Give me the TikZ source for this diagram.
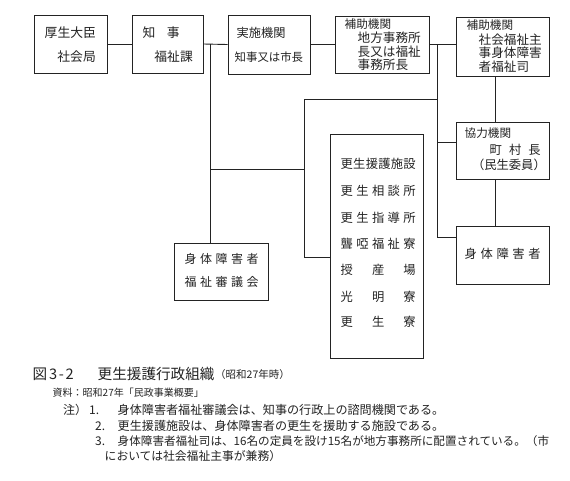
\documentclass[tikz,border=0pt]{standalone}
\usepackage{fontspec}
\setmainfont{Noto Sans CJK JP}
\definecolor{ink}{RGB}{35,35,35}
\newcommand{\fs}[1]{\fontsize{#1}{#1}\selectfont}
\newcommand{\spreadtxt}[2]{\makebox[#1][s]{#2}}
\begin{document}
\begin{tikzpicture}[x=1pt,y=-1pt,
  box/.style={draw=ink,line width=0.9pt,inner sep=0pt,rectangle},
  conn/.style={draw=ink,line width=0.9pt},
  lbl/.style={inner sep=0pt,anchor=west,text=ink},
  rlbl/.style={inner sep=0pt,anchor=east,text=ink}]
\fill[white] (0,0) rectangle (570,480);
\useasboundingbox (0,0) rectangle (570,480);

% boxes
\node[box,minimum width=73pt,minimum height=58pt] (b1) at (70.5,44) {};
\node[box,minimum width=71pt,minimum height=58pt] (b2) at (167.5,44) {};
\node[box,minimum width=82pt,minimum height=59pt] (b3) at (269,44.5) {};
\node[box,minimum width=94pt,minimum height=57pt] (b4) at (382,44.5) {};
\node[box,minimum width=93pt,minimum height=59pt] (b5) at (502.5,46.5) {};
\node[box,minimum width=94pt,minimum height=57pt] (b6) at (221,271.5) {};
\node[box,minimum width=93pt,minimum height=224pt] (b7) at (376.5,246) {};
\node[box,minimum width=93pt,minimum height=57pt] (b8) at (502.5,150.5) {};
\node[box,minimum width=93pt,minimum height=58pt] (b9) at (502.5,255) {};

% box texts
\node[lbl,font=\fs{12.8}] (t1a) at (44.5,33) {厚生大臣};
\node[rlbl,font=\fs{12.8}] (t1b) at (96,57) {社会局};
\node[lbl,font=\fs{12.8}] (t2a) at (142.5,33) {\spreadtxt{37pt}{知\hfill 事}};
\node[rlbl,font=\fs{12.8}] (t2b) at (193,57) {福祉課};
\node[lbl,font=\fs{12.2}] (t3a) at (236.5,33) {実施機関};
\node[lbl,font=\fs{11.4}] (t3b) at (234.5,57) {知事又は市長};
\node[lbl,font=\fs{11.6}] (t4a) at (344.5,24) {補助機関};
\node[lbl,font=\fs{12.6}] (t4b) at (357.5,38) {地方事務所};
\node[lbl,font=\fs{12.6}] (t4c) at (357.5,52) {長又は福祉};
\node[lbl,font=\fs{12.6}] (t4d) at (357.5,65) {事務所長};
\node[lbl,font=\fs{11.6}] (t5a) at (466.5,25) {補助機関};
\node[lbl,font=\fs{12.6}] (t5b) at (478.5,40) {社会福祉主};
\node[lbl,font=\fs{12.6}] (t5c) at (478.5,53) {事身体障害};
\node[lbl,font=\fs{12.6}] (t5d) at (478.5,67) {者福祉司};
\node[lbl,font=\fs{12}] (t6a) at (184.5,259) {\spreadtxt{74pt}{身\hfill 体\hfill 障\hfill 害\hfill 者}};
\node[lbl,font=\fs{12}] (t6b) at (184.5,282) {\spreadtxt{74pt}{福\hfill 祉\hfill 審\hfill 議\hfill 会}};
\node[lbl,font=\fs{12.3}] (t7a) at (340.5,164) {\spreadtxt{75pt}{更\hfill 生\hfill 援\hfill 護\hfill 施\hfill 設}};
\node[lbl,font=\fs{12.3}] (t7b) at (340.5,191) {\spreadtxt{75pt}{更\hfill 生\hfill 相\hfill 談\hfill 所}};
\node[lbl,font=\fs{12.3}] (t7c) at (340.5,218) {\spreadtxt{75pt}{更\hfill 生\hfill 指\hfill 導\hfill 所}};
\node[lbl,font=\fs{12.3}] (t7d) at (340.5,244) {\spreadtxt{75pt}{聾\hfill 啞\hfill 福\hfill 祉\hfill 寮}};
\node[lbl,font=\fs{12.3}] (t7e) at (340.5,270) {\spreadtxt{75pt}{授\hfill 産\hfill 場}};
\node[lbl,font=\fs{12.3}] (t7f) at (340.5,297) {\spreadtxt{75pt}{光\hfill 明\hfill 寮}};
\node[lbl,font=\fs{12.3}] (t7g) at (340.5,322) {\spreadtxt{75pt}{更\hfill 生\hfill 寮}};
\node[lbl,font=\fs{11.6}] (t8a) at (464.5,133) {協力機関};
\node[lbl,font=\fs{12.3}] (t8b) at (489.5,150) {\spreadtxt{51pt}{町\hfill 村\hfill 長}};
\node[rlbl,font=\fs{12.3}] (t8c) at (546,165) {（民生委員）};
\node[lbl,font=\fs{12.3}] (t9a) at (464.5,254) {\spreadtxt{76pt}{身\hfill 体\hfill 障\hfill 害\hfill 者}};

% junction coordinates
\coordinate (j1) at (210.5,44);
\coordinate (j2) at (210.5,169);
\coordinate (j3) at (304,169);
\coordinate (j4) at (437,44);
\coordinate (j5) at (437,99);
\coordinate (j6) at (304,99);
\coordinate (j7) at (304,257);
\coordinate (j8) at (437,142);
\coordinate (j9) at (437,237);
\coordinate (k1) at (495,0);

% connectors
\draw[conn] (b1.east) -- (b2.west);
\draw[conn] (b2.east) -- (b3.west);
\draw[conn] (b3.east) -- (b4.west);
\draw[conn] (b4.east) -- (b4.east -| b5.west);
\draw[conn] (j1) -- (j1 |- b6.north);
\draw[conn] (j2) -- (j3);
\draw[conn] (j5) -- (j6) -- (j7) -- (j7 -| b7.west);
\draw[conn] (j4) -- (j9) -- (j9 -| b9.west);
\draw[conn] (j8) -- (j8 -| b8.west);
\draw[conn] (b5.south -| k1) -- (b8.north -| k1);
\draw[conn] (b8.south -| k1) -- (b9.north -| k1);

% caption
\node[lbl,font=\fs{14.6}] (c1) at (32.5,374) {\spreadtxt{41pt}{図\hfill 3\hfill -\hfill 2}};
\node[lbl,font=\fs{14.6}] (c2) at (97.5,374) {更生援護行政組織};
\node[lbl,font=\fs{10.5}] (c3) at (215,375) {（昭和27年時）};
\node[lbl,font=\fs{10}] (c4) at (52.5,393) {資料：昭和27年「民政事業概要」};
\node[lbl,font=\fs{12}] (n0) at (63,410) {注）};
\node[lbl,font=\fs{12}] (n1) at (89,410) {1.};
\node[lbl,font=\fs{12.1}] (n1t) at (117.5,410) {身体障害者福祉審議会は、知事の行政上の諮問機関である。};
\node[lbl,font=\fs{12}] (n2) at (95,426) {2.};
\node[lbl,font=\fs{12.1}] (n2t) at (117.5,426) {更生援護施設は、身体障害者の更生を援助する施設である。};
\node[lbl,font=\fs{12}] (n3) at (95,441) {3.};
\node[lbl,font=\fs{11.6}] (n3t) at (117.5,441) {身体障害者福祉司は、16名の定員を設け15名が地方事務所に配置されている。（市};
\node[lbl,font=\fs{11.8}] (n4) at (104.5,456) {においては社会福祉主事が兼務）};
\end{tikzpicture}
\end{document}
